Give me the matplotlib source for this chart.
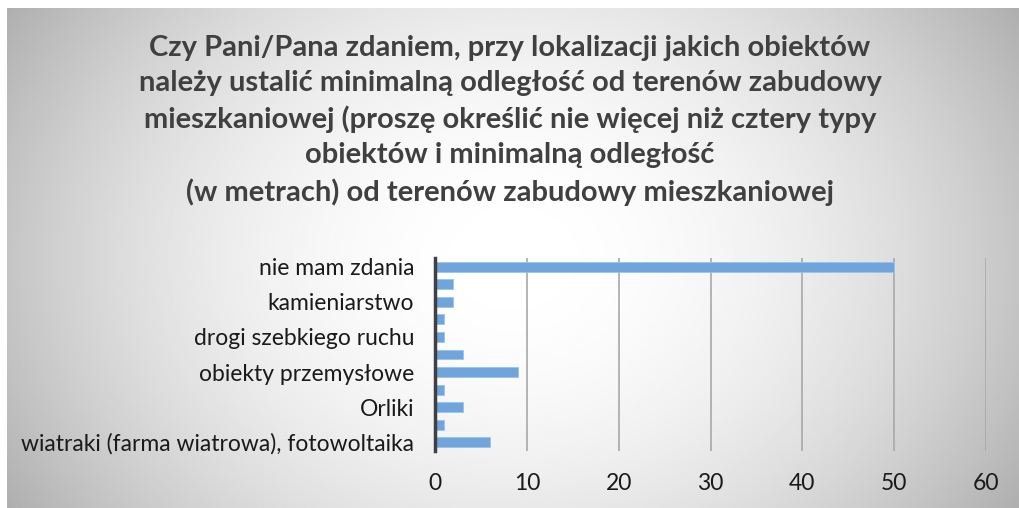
import numpy as np
import matplotlib
matplotlib.use('Agg')
import matplotlib.pyplot as plt

# categories from bottom to top; only every second label is shown in the source chart
categories = [
    "wiatraki (farma wiatrowa), fotowoltaika", "",
    "Orliki", "",
    "obiekty przemysłowe", "",
    "drogi szebkiego ruchu", "",
    "kamieniarstwo", "",
    "nie mam zdania",
]
counts = [6, 1, 3, 1, 9, 3, 1, 1, 2, 2, 50]
x_ticks = [0, 10, 20, 30, 40, 50, 60]

title = ("Czy Pani/Pana zdaniem, przy lokalizacji jakich obiektów\n"
         "należy ustalić minimalną odległość od terenów zabudowy\n"
         "mieszkaniowej (proszę określić nie więcej niż cztery typy\n"
         "obiektów i minimalną odległość\n"
         "(w metrach) od terenów zabudowy mieszkaniowej")

W, H = 1019, 508
plt.rcParams['font.family'] = ['Lato', 'DejaVu Sans']

fig = plt.figure(figsize=(W / 100, H / 100), dpi=100)
fig.patch.set_facecolor('white')

# radial grey-to-white background panel
bg = fig.add_axes([7 / W, 0, 1 - 7 / W, 1 - 8 / H], zorder=0)
gx, gy = np.meshgrid(np.linspace(-1, 1, 400), np.linspace(-1, 1, 200))
shade = 255 - 58 * gx ** 2 - 22 * gy ** 2
shade = np.clip(shade, 0, 255) / 255.0
bg.imshow(shade, cmap='gray', vmin=0, vmax=1, aspect='auto', extent=[0, 1, 0, 1])
bg.set_axis_off()

ax = fig.add_axes([435 / W, 1 - 451 / H, (986 - 435) / W, (451 - 258) / H], zorder=1)
ax.patch.set_alpha(0)

pos = np.arange(len(categories))
ax.barh(pos, counts, height=0.56, color='#6fa5db', edgecolor='#9cc3ea', linewidth=0.6, zorder=3)

ax.set_xlim(0, 60)
ax.set_ylim(-0.5, len(categories) - 0.5)
ax.set_xticks(x_ticks)
ax.set_yticks(pos)
ax.set_yticklabels(categories)
ax.tick_params(axis='y', length=0, pad=15, labelsize=16.5, labelcolor='#1a1a1a')
ax.tick_params(axis='x', length=0, pad=16, labelsize=16.5, labelcolor='#1a1a1a')
ax.grid(axis='x', color='#a8a8a8', linewidth=1.2, zorder=0)

for side in ['top', 'right', 'bottom']:
    ax.spines[side].set_visible(False)
ax.spines['left'].set_color('#404040')
ax.spines['left'].set_linewidth(2.5)
ax.spines['left'].set_zorder(4)

fig.text(510 / W, 1 - 35 / H, title, ha='center', va='top', multialignment='center',
         fontsize=21, fontweight='bold', color='#404040', linespacing=1.43)

fig.savefig('out.png', dpi=100)
